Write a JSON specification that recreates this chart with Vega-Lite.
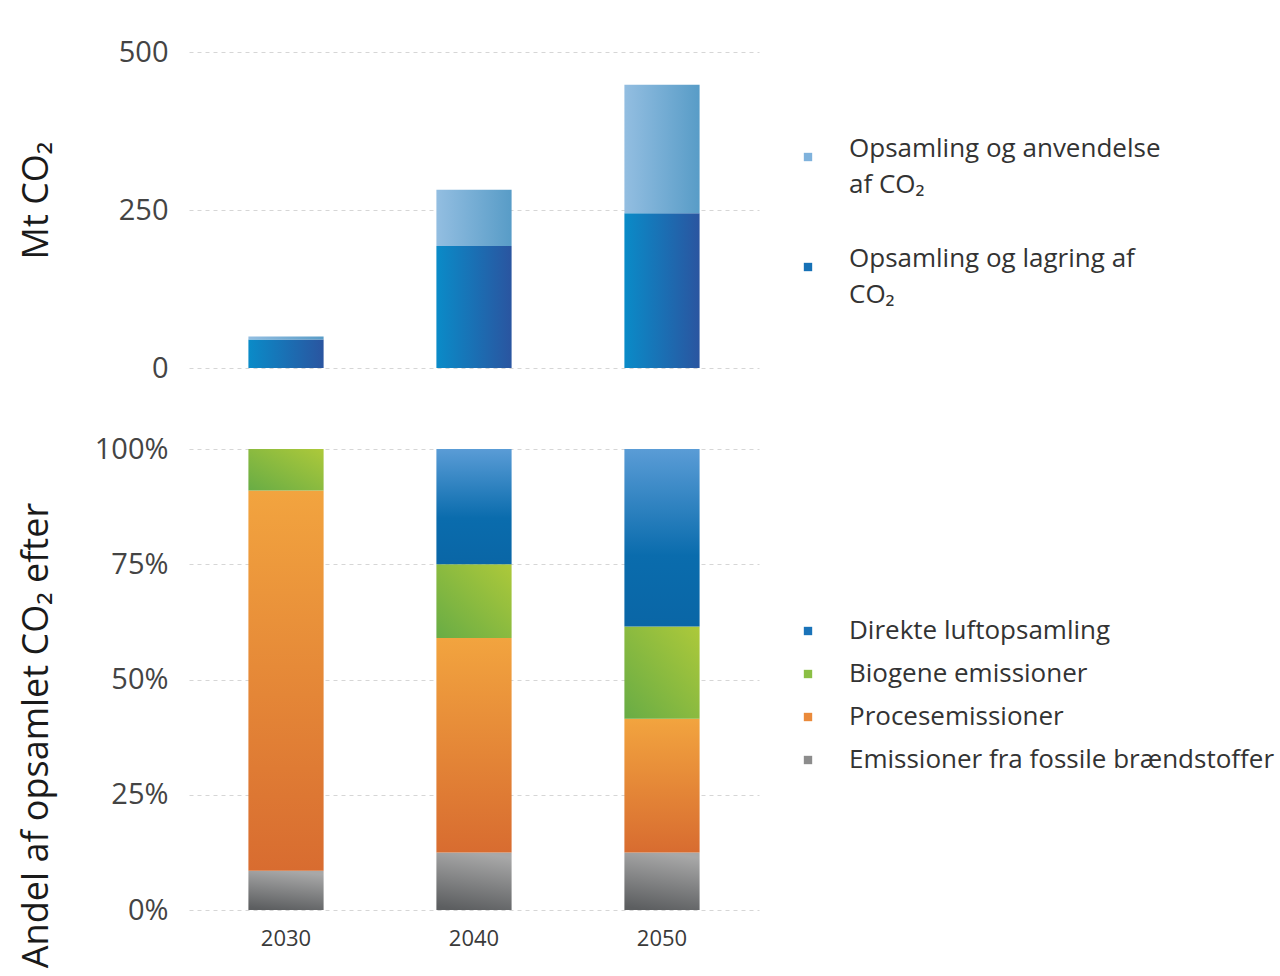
{
  "$schema": "https://vega.github.io/schema/vega-lite/v6.json",
  "background": "white",
  "padding": {"left": 18, "top": 38, "right": 5, "bottom": 5},
  "config": {
    "font": "Open Sans",
    "view": {"stroke": null},
    "axis": {
      "labelFont": "Open Sans",
      "labelColor": "#444444",
      "titleFont": "Open Sans",
      "titleColor": "#1a1a1a",
      "titleFontWeight": "normal",
      "domain": false,
      "ticks": false,
      "gridColor": "#d6d6d6",
      "gridDash": [4, 4],
      "gridWidth": 1
    },
    "legend": {
      "labelFont": "Open Sans",
      "labelFontSize": 26,
      "labelColor": "#333333",
      "symbolType": "square",
      "symbolSize": 70,
      "symbolStrokeWidth": 0,
      "labelOffset": 28,
      "labelLimit": 500
    },
    "style": {"guide-label": {"lineHeight": 36}}
  },
  "spacing": 52,
  "resolve": {"scale": {"color": "independent"}, "legend": {"color": "independent"}},
  "vconcat": [
    {
      "width": 570,
      "height": 316,
      "data": {"values": [
        {"year": "2030", "type": "Opsamling og lagring af CO₂", "mt": 45},
        {"year": "2030", "type": "Opsamling og anvendelse af CO₂", "mt": 5},
        {"year": "2040", "type": "Opsamling og lagring af CO₂", "mt": 193},
        {"year": "2040", "type": "Opsamling og anvendelse af CO₂", "mt": 89},
        {"year": "2050", "type": "Opsamling og lagring af CO₂", "mt": 245},
        {"year": "2050", "type": "Opsamling og anvendelse af CO₂", "mt": 203}
      ]},
      "mark": {"type": "bar"},
      "encoding": {
        "x": {"field": "year", "type": "ordinal", "axis": null, "scale": {"paddingInner": 0.6, "paddingOuter": 0.316}},
        "y": {
          "field": "mt", "type": "quantitative", "stack": "zero",
          "scale": {"domain": [0, 500]},
          "axis": {"values": [0, 250, 500], "title": "Mt CO₂", "titleFontSize": 36, "labelFontSize": 29, "labelPadding": 21, "grid": true, "titleX": -153, "titleY": 148, "titleBaseline": "middle", "titleAnchor": "middle"}
        },
        "order": {"field": "type", "sort": "descending"},
        "color": {
          "field": "type", "type": "nominal",
          "scale": {"domain": ["Opsamling og anvendelse af CO₂", "Opsamling og lagring af CO₂"], "range": ["#7fb2dc", "#1671b6"]},
          "legend": {
            "title": null, "orient": "none", "legendX": 606, "legendY": 92, "rowPadding": 48,
            "labelBaseline": "alphabetic",
            "labelExpr": "datum.label == 'Opsamling og anvendelse af CO₂' ? ['Opsamling og anvendelse', 'af CO₂'] : ['Opsamling og lagring af', 'CO₂']"
          },
          "condition": [
            {"test": "datum.type === 'Opsamling og lagring af CO₂'", "value": {"gradient": "linear", "x1": 0, "y1": 0, "x2": 1, "y2": 0, "stops": [{"offset": 0, "color": "#0a8bc8"}, {"offset": 1, "color": "#2a55a0"}]}},
            {"test": "datum.type === 'Opsamling og anvendelse af CO₂'", "value": {"gradient": "linear", "x1": 0, "y1": 0, "x2": 1, "y2": 0, "stops": [{"offset": 0, "color": "#93bee1"}, {"offset": 1, "color": "#589cc7"}]}}
          ]
        }
      }
    },
    {
      "width": 570,
      "height": 461,
      "data": {"values": [
        {"year": "2030", "type": "Emissioner fra fossile brændstoffer", "share": 0.085},
        {"year": "2030", "type": "Procesemissioner", "share": 0.825},
        {"year": "2030", "type": "Biogene emissioner", "share": 0.09},
        {"year": "2030", "type": "Direkte luftopsamling", "share": 0.0},
        {"year": "2040", "type": "Emissioner fra fossile brændstoffer", "share": 0.125},
        {"year": "2040", "type": "Procesemissioner", "share": 0.465},
        {"year": "2040", "type": "Biogene emissioner", "share": 0.16},
        {"year": "2040", "type": "Direkte luftopsamling", "share": 0.25},
        {"year": "2050", "type": "Emissioner fra fossile brændstoffer", "share": 0.125},
        {"year": "2050", "type": "Procesemissioner", "share": 0.29},
        {"year": "2050", "type": "Biogene emissioner", "share": 0.2},
        {"year": "2050", "type": "Direkte luftopsamling", "share": 0.385}
      ]},
      "transform": [
        {"calculate": "indexof(['Emissioner fra fossile brændstoffer', 'Procesemissioner', 'Biogene emissioner', 'Direkte luftopsamling'], datum.type)", "as": "stackOrder"}
      ],
      "mark": {"type": "bar"},
      "encoding": {
        "x": {
          "field": "year", "type": "ordinal", "scale": {"paddingInner": 0.6, "paddingOuter": 0.316},
          "axis": {"title": null, "labelAngle": 0, "labelFontSize": 22, "labelPadding": 18, "grid": false, "labelColor": "#3a3a3a"}
        },
        "y": {
          "field": "share", "type": "quantitative", "stack": "zero",
          "scale": {"domain": [0, 1]},
          "axis": {"values": [0, 0.25, 0.5, 0.75, 1], "format": ".0%", "title": "Andel af opsamlet CO₂ efter", "titleFontSize": 36, "labelFontSize": 29, "labelPadding": 21, "grid": true, "titleX": -153, "titleY": 286, "titleBaseline": "middle", "titleAnchor": "middle"}
        },
        "order": {"field": "stackOrder", "type": "quantitative", "sort": "ascending"},
        "color": {
          "field": "type", "type": "nominal",
          "scale": {"domain": ["Direkte luftopsamling", "Biogene emissioner", "Procesemissioner", "Emissioner fra fossile brændstoffer"], "range": ["#1a73b9", "#8bbf45", "#ea8a3b", "#8c8c8c"]},
          "legend": {"title": null, "orient": "none", "legendX": 606, "legendY": 169, "rowPadding": 17},
          "condition": [
            {"test": "datum.type === 'Direkte luftopsamling'", "value": {"gradient": "linear", "x1": 0, "y1": 0, "x2": 0, "y2": 1, "stops": [{"offset": 0, "color": "#5a9cd6"}, {"offset": 0.6, "color": "#0a6cad"}, {"offset": 1, "color": "#0a66a6"}]}},
            {"test": "datum.type === 'Biogene emissioner'", "value": {"gradient": "linear", "x1": 0, "y1": 1, "x2": 1, "y2": 0, "stops": [{"offset": 0, "color": "#68ac45"}, {"offset": 1, "color": "#adc93a"}]}},
            {"test": "datum.type === 'Procesemissioner'", "value": {"gradient": "linear", "x1": 0, "y1": 0, "x2": 0, "y2": 1, "stops": [{"offset": 0, "color": "#f2a43f"}, {"offset": 1, "color": "#d86c30"}]}},
            {"test": "datum.type === 'Emissioner fra fossile brændstoffer'", "value": {"gradient": "linear", "x1": 0.5, "y1": 0, "x2": 0.3, "y2": 1, "stops": [{"offset": 0, "color": "#a8a8a8"}, {"offset": 1, "color": "#5c5e60"}]}}
          ]
        }
      }
    }
  ]
}
